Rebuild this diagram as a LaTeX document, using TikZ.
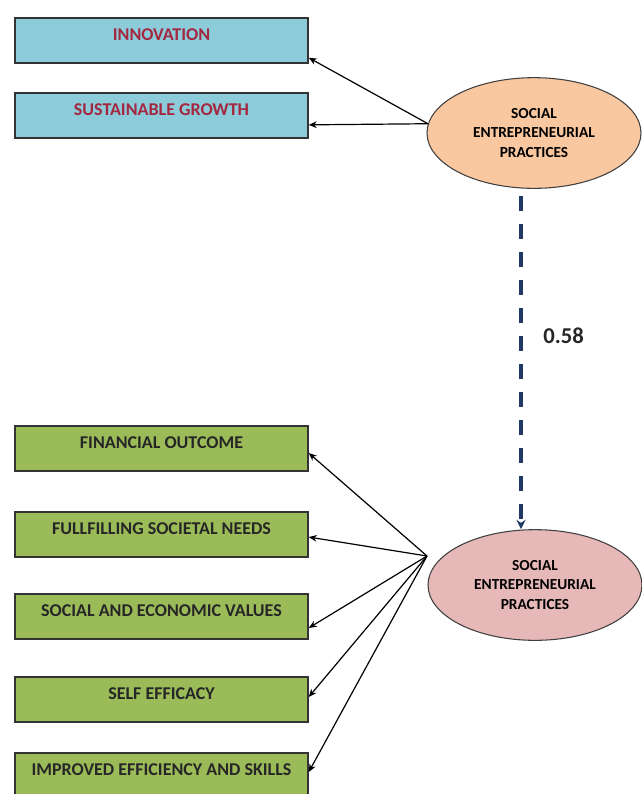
\documentclass[tikz,border=0pt]{standalone}
\usepackage{fontspec}
\setmainfont{Carlito}
\usepackage{tikz}
\usetikzlibrary{arrows.meta, shapes.geometric, positioning}

\definecolor{boxblue}{HTML}{8CCBDA}
\definecolor{boxgreen}{HTML}{9BBB59}
\definecolor{wine}{HTML}{A3283F}
\definecolor{peach}{HTML}{FAC8A0}
\definecolor{rose}{HTML}{E6B9B8}
\definecolor{navy}{HTML}{1F3864}

\begin{document}
\begin{tikzpicture}[x=0.75pt, y=-0.75pt,
  every node/.style={font=\bfseries},
  item/.style={draw=black!80, line width=1.1pt, rectangle, inner sep=0pt,
    minimum width=219.75pt, text height=16.5pt, text depth=17.25pt,
    font=\bfseries\fontsize{13.5}{16}\selectfont},
  blueitem/.style={item, fill=boxblue, text=wine},
  greenitem/.style={item, fill=boxgreen, text=black!85},
  construct/.style={draw=black!75, line width=0.8pt, ellipse, inner sep=0pt,
    minimum width=160.5pt, minimum height=83pt, align=center,
    font=\bfseries\fontsize{11.5}{14.5}\selectfont},
  load/.style={-{Stealth[length=6pt, width=5pt]}, line width=0.9pt},
  >={Stealth[length=6pt]}]
  \useasboundingbox (0,0) rectangle (642,794);

  % upper construct and its items
  \node[construct, fill=peach] (sepA) at (534,133) {SOCIAL\\ENTREPRENEURIAL\\PRACTICES};
  \node[blueitem] (innov) at (161.5,40.5) {INNOVATION};
  \node[blueitem] (growth) at (161.5,115.5) {SUSTAINABLE GROWTH};
  \draw[load] (sepA.175) -- ([yshift=4.5pt]innov.south east);
  \draw[load] (sepA.175) -- ([yshift=-7pt]growth.east);

  % lower construct and its items
  \node[construct, fill=rose] (sepB) at (535,585) {SOCIAL\\ENTREPRENEURIAL\\PRACTICES};
  \coordinate (hub) at (427,556);
  \node[greenitem] (fin) at (161.5,448.5) {FINANCIAL OUTCOME};
  \node[greenitem] (needs) at (161.5,534.5) {FULLFILLING SOCIETAL NEEDS};
  \node[greenitem] (values) at (161.5,616.5) {SOCIAL AND ECONOMIC VALUES};
  \node[greenitem] (efficacy) at (161.5,699.5) {SELF EFFICACY};
  \node[greenitem] (skills) at (161.5,775.5) {IMPROVED EFFICIENCY AND SKILLS};
  \draw[load] (hub) -- ([yshift=-3.4pt]fin.east);
  \draw[load] (hub) -- ([yshift=-1.9pt]needs.east);
  \draw[load] (hub) -- ([yshift=-8.6pt]values.east);
  \draw[load] (hub) -- ([yshift=1.9pt]efficacy.east);
  \draw[load] (hub) -- ([yshift=2.6pt]skills.east);

  % path between constructs
  \draw[navy, line width=3pt, dash pattern=on 11pt off 10pt,
    -{Stealth[length=7pt, width=7pt]}]
    ([shift={(-13,7)}]sepA.south) -- ([xshift=-10.5pt]sepB.north)
    node[pos=0.42, right=12pt, text=black!85, font=\bfseries\fontsize{17}{20}\selectfont] (coef) {0.58};
\end{tikzpicture}
\end{document}
